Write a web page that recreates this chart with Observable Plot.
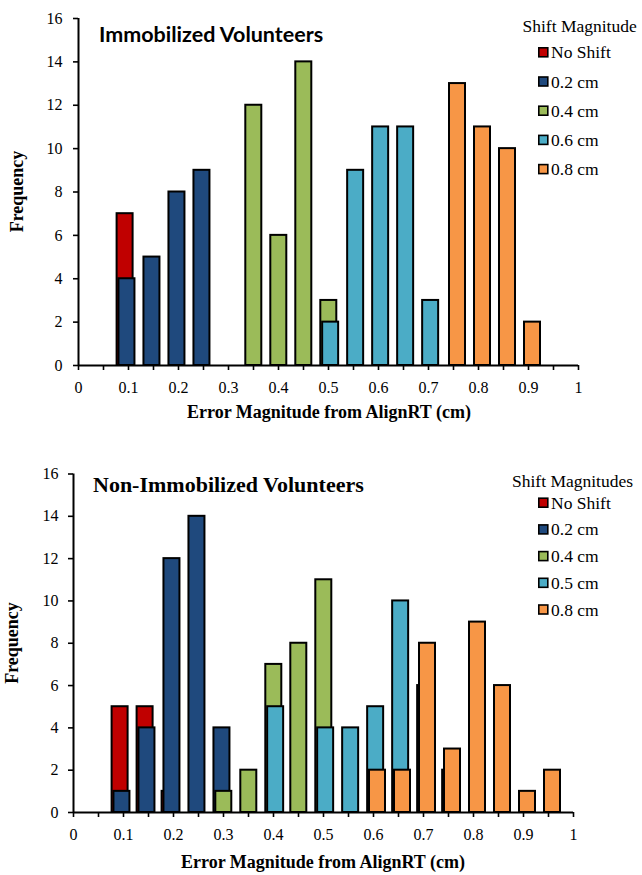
<!DOCTYPE html>
<html>
<head>
<meta charset="utf-8">
<script src="https://cdn.jsdelivr.net/npm/d3@7"></script>
<script src="https://cdn.jsdelivr.net/npm/@observablehq/plot@0.6"></script>
<style>
  html, body { margin: 0; padding: 0; background: white; }
  #charts { width: 642px; }
  #charts svg { display: block; }
</style>
</head>
<body>
<div id="charts"></div>
<script>
// ---- data ----
const seriesTop = ["No Shift", "0.2 cm", "0.4 cm", "0.6 cm", "0.8 cm"];
const seriesBottom = ["No Shift", "0.2 cm", "0.4 cm", "0.5 cm", "0.8 cm"];
const colors = ["#C00000", "#1F497D", "#9BBB59", "#4BACC6", "#F79646"];

// Immobilized volunteers: [bin center (cm), frequency]
const immNoShift = [[0.10, 7]];
const imm02 = [[0.10, 4], [0.15, 5], [0.20, 8], [0.25, 9]];
const imm04 = [[0.35, 12], [0.40, 6], [0.45, 14], [0.50, 3]];
const imm06 = [[0.50, 2], [0.55, 9], [0.60, 11], [0.65, 11], [0.70, 3]];
const imm08 = [[0.75, 13], [0.80, 11], [0.85, 10], [0.90, 2]];

// Non-immobilized volunteers
const nonNoShift = [[0.10, 5], [0.15, 5], [0.20, 1]];
const non02 = [[0.10, 1], [0.15, 4], [0.20, 12], [0.25, 14], [0.30, 4]];
const non04 = [[0.30, 1], [0.35, 2], [0.40, 7], [0.45, 8], [0.50, 11]];
const non05 = [[0.40, 5], [0.50, 4], [0.55, 4], [0.60, 5], [0.65, 10], [0.70, 6], [0.75, 2]];
const non08 = [[0.60, 2], [0.65, 2], [0.70, 8], [0.75, 3], [0.80, 9], [0.85, 6], [0.90, 1], [0.95, 2]];

const yTicks = [0, 2, 4, 6, 8, 10, 12, 14, 16];
const xTicks = [0, 0.05, 0.1, 0.15, 0.2, 0.25, 0.3, 0.35, 0.4, 0.45, 0.5, 0.55, 0.6, 0.65, 0.7, 0.75, 0.8, 0.85, 0.9, 0.95, 1];
const xTickLabels = ["0", "0.1", "0.2", "0.3", "0.4", "0.5", "0.6", "0.7", "0.8", "0.9", "1"];

const xTitle = "Error Magnitude from AlignRT (cm)";
const yTitle = "Frequency";

// ---- drawing ----
const serif = "'Liberation Serif', 'Times New Roman', serif";

function chart(cfg) {
  const plotW = 642 - cfg.ml - cfg.mr;         // pixels for x domain [0,1]
  const halfW = 8 / plotW;                     // 16px wide bars
  const step = 1.85 / plotW;                   // small per-series shift
  const marks = [];
  cfg.data.forEach((arr, i) => {
    const off = (i - 2) * step + 0.3 / plotW;
    marks.push(Plot.rectY(arr, {
      x1: d => d[0] - halfW + off,
      x2: d => d[0] + halfW + off,
      y1: 0,
      y2: d => d[1],
      fill: colors[i],
      stroke: "black",
      strokeWidth: 2
    }));
  });
  marks.push(
    Plot.axisY({ticks: yTicks, tickSize: 5, tickPadding: cfg.yPad, label: null, strokeWidth: 1.6,
      fontSize: 16, fontFamily: serif, fill: "black"}),
    Plot.axisX({ticks: xTicks, tickSize: 5, tickPadding: 11, label: null, strokeWidth: 1.6,
      fontSize: 16, fontFamily: serif, fill: "black",
      tickFormat: d => { const k = Math.round(d * 20); return k % 2 === 0 ? xTickLabels[k / 2] : ""; }}),
    Plot.ruleY([0], {stroke: "black", strokeWidth: 2}),
    Plot.ruleX([0], {stroke: "black", strokeWidth: 2})
  );
  const svg = Plot.plot({
    width: 642,
    height: cfg.h,
    marginLeft: cfg.ml,
    marginRight: cfg.mr,
    marginTop: cfg.mt,
    marginBottom: cfg.mb,
    x: {domain: [0, 1]},
    y: {domain: [0, 16]},
    style: `font-family: ${serif}; font-size: 16px; color: black; background: white; overflow: visible;`,
    marks
  });
  const s = d3.select(svg);
  // title
  s.append("text").attr("x", cfg.titleX).attr("y", cfg.titleY).attr("text-anchor", "start")
    .attr("font-family", cfg.titleFont).attr("font-weight", "bold")
    .attr("font-size", cfg.titleSize).attr("fill", "black").text(cfg.title);
  // axis titles
  s.append("text").attr("x", cfg.xTitleX).attr("y", cfg.xTitleY)
    .attr("text-anchor", "middle").attr("font-family", serif).attr("font-weight", "bold")
    .attr("font-size", 18).attr("fill", "black").text(xTitle);
  s.append("text").attr("transform", `translate(${cfg.yTitleX},${cfg.yTitleY}) rotate(-90)`)
    .attr("text-anchor", "middle").attr("font-family", serif).attr("font-weight", "bold")
    .attr("font-size", 18).attr("fill", "black").text(yTitle);
  // legend
  s.append("text").attr("x", cfg.legX).attr("y", cfg.legY).attr("text-anchor", "start")
    .attr("font-family", serif).attr("font-size", 17.5).attr("fill", "black").text(cfg.legTitle);
  cfg.series.forEach((name, i) => {
    const cy = cfg.rowY0 + i * cfg.rowStep;
    s.append("rect").attr("x", 538.8).attr("y", cy - 4.5).attr("width", 9).attr("height", 9)
      .attr("fill", colors[i]).attr("stroke", "black").attr("stroke-width", 1.6);
    s.append("text").attr("x", 551).attr("y", cy + 6).attr("text-anchor", "start")
      .attr("font-family", serif).attr("font-size", 17.5).attr("fill", "black").text(name);
  });
  return svg;
}

const root = document.getElementById("charts");
root.appendChild(chart({
  data: [immNoShift, imm02, imm04, imm06, imm08],
  series: seriesTop,
  h: 437, ml: 78, mr: 64, mt: 18, mb: 72, yPad: 11,
  title: "Immobilized Volunteers", titleX: 99, titleY: 41.5,
  titleFont: "Lato, 'Open Sans', sans-serif", titleSize: 21.5,
  xTitleX: 329, xTitleY: 418, yTitleX: 23, yTitleY: 191.5,
  legTitle: "Shift Magnitude", legX: 522.5, legY: 32.3, rowY0: 52.3, rowStep: 29.2
}));
root.appendChild(chart({
  data: [nonNoShift, non02, non04, non05, non08],
  series: seriesBottom,
  h: 438, ml: 73, mr: 69, mt: 36.5, mb: 63, yPad: 10,
  title: "Non-Immobilized Volunteers", titleX: 93, titleY: 54.5,
  titleFont: serif, titleSize: 22,
  xTitleX: 323, xTitleY: 431, yTitleX: 18, yTitleY: 206,
  legTitle: "Shift Magnitudes", legX: 512, legY: 49.5, rowY0: 65.7, rowStep: 26.7
}));
</script>
</body>
</html>
